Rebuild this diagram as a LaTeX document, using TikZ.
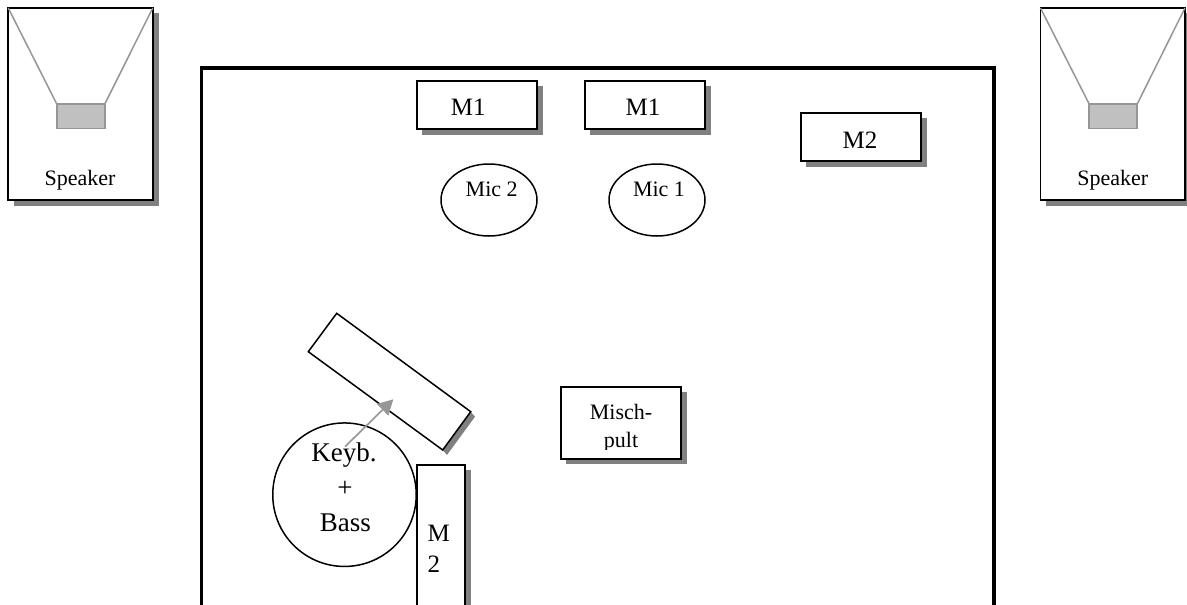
\documentclass[tikz,border=0pt]{standalone}
\usepackage{fontspec}
\setmainfont{Liberation Serif}
\usetikzlibrary{arrows.meta,shapes.geometric}
\definecolor{shadowgray}{HTML}{808080}
\definecolor{horngray}{HTML}{969696}
\definecolor{conegray}{HTML}{C0C0C0}
\tikzset{
  x=1pt,y=-1pt,
  shadowc/.style={fill=shadowgray,draw=none},
  boxn/.style={draw=black,line width=1.8pt,fill=white,inner sep=0pt,outer sep=0pt},
  thinbox/.style={draw=black,line width=1.5pt,fill=white,inner sep=0pt,outer sep=0pt},
  horn/.style={draw=horngray,line width=1.5pt},
  conebox/.style={draw=horngray,line width=1.5pt,fill=conegray,inner sep=0pt,outer sep=0pt,minimum width=48pt,minimum height=24.5pt},
  txtbig/.style={font=\fontsize{27}{29}\selectfont,inner sep=0pt,anchor=base},
  txtmon/.style={font=\fontsize{25}{27}\selectfont,inner sep=0pt,anchor=base},
  txtmid/.style={font=\fontsize{22}{24}\selectfont,inner sep=0pt,anchor=base},
}
\begin{document}
\begin{tikzpicture}
\useasboundingbox (0,0) rectangle (1187,605);
\clip (0,0) rectangle (1187,605);
% room
\draw[line width=3.2pt,line join=miter] (201.5,610) -- (201.5,68) -- (994,68) -- (994,610);
% left speaker
\fill[shadowc] (14,13) rectangle (158.5,205.5);
\node[boxn,minimum width=144.5pt,minimum height=192pt] (spL) at (80.5,104) {};
\node[conebox] (coneL) at (80.8,116.3) {};
\draw[horn] (spL.north west) -- (coneL.north west);
\draw[horn] (spL.north east) -- (coneL.north east);
\node[txtmid] (tL) at (80,185) {Speaker};
% right speaker
\fill[shadowc] (1046,13) rectangle (1190,205.5);
\node[boxn,minimum width=144.5pt,minimum height=192pt] (spR) at (1112.7,104) {};
\node[conebox] (coneR) at (1113.2,116.3) {};
\draw[horn] (spR.north west) -- (coneR.north west);
\draw[horn] (spR.north east) -- (coneR.north east);
\node[txtmid] (tR) at (1112.8,185) {Speaker};
% monitors
\fill[shadowc] (422,86) rectangle (542.5,134.5);
\node[boxn,minimum width=120.5pt,minimum height=48pt] (m1a) at (477,105) {};
\node[txtmon] (tm1a) at (468.3,115.7) {M1};
\fill[shadowc] (590,86) rectangle (710.5,134.5);
\node[boxn,minimum width=120.5pt,minimum height=48pt] (m1b) at (645,105) {};
\node[txtmon] (tm1b) at (643,115.7) {M1};
\fill[shadowc] (806,118) rectangle (926.5,166.5);
\node[boxn,minimum width=120.5pt,minimum height=48pt] (m2a) at (861,137) {};
\node[txtmon] (tm2a) at (860,148.3) {M2};
% mics
\node[thinbox,ellipse,minimum width=96pt,minimum height=72pt] (mic2) at (489,200) {};
\node[txtmid] (tmic2) at (491.7,196) {Mic 2};
\node[thinbox,ellipse,minimum width=96pt,minimum height=72pt] (mic1) at (657,200) {};
\node[txtmid] (tmic1) at (659,196) {Mic 1};
% mixer
\fill[shadowc] (566,392) rectangle (686.5,464);
\node[boxn,minimum width=120pt,minimum height=72pt] (mix) at (621,423) {};
\begin{scope}
\clip (562,388) rectangle (680,449);
\node[txtmid] (tmix1) at (621,419.3) {Misch-};
\node[txtmid] (tmix2) at (621,447.5) {pult};
\end{scope}
% keyboard (tilted)
\fill[shadowc] (442.7,450) -- (470.7,411.7) -- (475,416.7) -- (447,455) -- cycle;
\draw[thinbox] (336.7,313.3) -- (308.3,351.7) -- (442.7,450) -- (470.7,411.7) -- cycle;
\coordinate (arrowtip) at (393.3,399.3);
% player
\node[thinbox,circle,minimum size=143.5pt] (player) at (344.5,494.7) {};
\node[txtbig] (tk) at (344,461.7) {Keyb.};
\node[txtbig] (tp) at (345,496) {+};
\node[txtbig] (tb) at (345.3,531.7) {Bass};
\coordinate (arrowstart) at (345,446.7);
\draw[draw=horngray,line width=1.6pt,-{Triangle[length=15pt,width=16pt,fill=horngray]}] (arrowstart) -- (arrowtip);
% side monitor
\fill[shadowc] (422,470) rectangle (471,620);
\node[boxn,minimum width=48pt,minimum height=150pt] (m2b) at (441,540) {};
\node[txtmon,anchor=base west] (tm) at (427.5,541.7) {M};
\node[txtmon,anchor=base west] (t2) at (427.5,572.3) {2};
\end{tikzpicture}
\end{document}
